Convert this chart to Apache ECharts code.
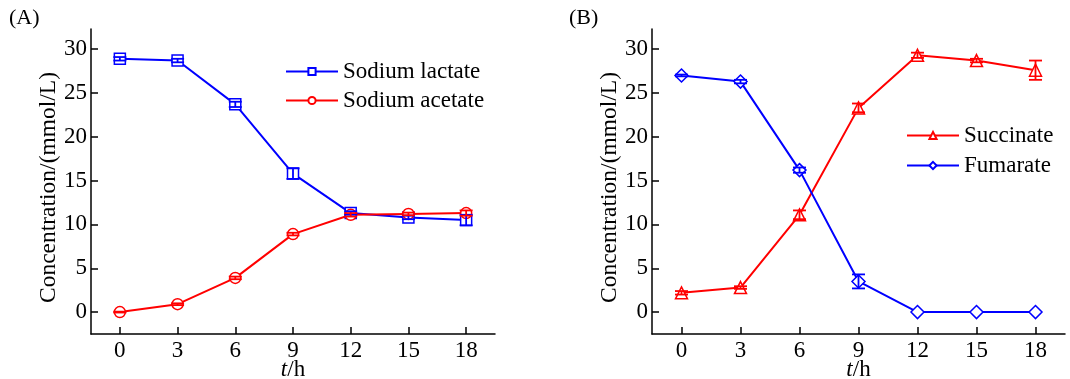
<!DOCTYPE html>
<html><head><meta charset="utf-8">
<script src="https://cdn.jsdelivr.net/npm/echarts@6/dist/echarts.min.js"></script>
<style>html,body{margin:0;padding:0;background:#fff}#c{width:1070px;height:379px}</style>
</head><body><div id="c"></div>
<script>
const timeH = [0, 3, 6, 9, 12, 15, 18];
const xTicks = [0, 3, 6, 9, 12, 15, 18];
const yTicks = [0, 5, 10, 15, 20, 25, 30];
const lactate = [28.9, 28.7, 23.7, 15.8, 11.3, 10.8, 10.5];
const lactateErr = [0.2, 0.2, 0.3, 0.6, 0.2, 0.2, 0.6];
const acetate = [0.0, 0.9, 3.9, 8.9, 11.1, 11.2, 11.3];
const acetateErr = [0.05, 0.1, 0.15, 0.15, 0.2, 0.15, 0.3];
const succinate = [2.2, 2.8, 11.1, 23.3, 29.3, 28.7, 27.6];
const succinateErr = [0.2, 0.15, 0.5, 0.5, 0.3, 0.2, 1.1];
const fumarate = [27.0, 26.3, 16.2, 3.5, 0, 0, 0];
const fumarateErr = [0.1, 0.2, 0.3, 0.8, 0, 0, 0];

const BLUE = '#0000ff', RED = '#ff0000';
const FONT = "'Liberation Serif','Times New Roman',serif";

function xAxis(gi) {
  return {
    type: 'value', gridIndex: gi, min: -1.5, max: 19.5,
    axisLine: {show: true, onZero: false, lineStyle: {color: '#000', width: 1.5}},
    axisTick: {show: true, inside: true, length: 7, lineStyle: {color: '#000', width: 1.5}, customValues: xTicks},
    axisLabel: {color: '#000', fontSize: 23, fontFamily: FONT, margin: 5, customValues: xTicks},
    splitLine: {show: false},
    name: '{i|t}/h', nameLocation: 'middle', nameGap: 24, nameMoveOverlap: false,
    nameTextStyle: {color: '#000', fontSize: 23, fontFamily: FONT,
      rich: {i: {fontStyle: 'italic', fontSize: 23, fontFamily: FONT, color: '#000'}}}
  };
}
function yAxis(gi) {
  return {
    type: 'value', gridIndex: gi, min: -2.5, max: 32.3,
    axisLine: {show: true, onZero: false, lineStyle: {color: '#000', width: 1.5}},
    axisTick: {show: true, inside: true, length: 7, lineStyle: {color: '#000', width: 1.5}, customValues: yTicks},
    axisLabel: {color: '#000', fontSize: 23, fontFamily: FONT, margin: 4, customValues: yTicks},
    splitLine: {show: false},
    name: 'Concentration/(mmol/L)', nameLocation: 'middle', nameGap: 30, nameMoveOverlap: false,
    nameTextStyle: {color: '#000', fontSize: 23.5, fontFamily: FONT, padding: [0, 12, 0, 0]}
  };
}
function lineSeries(name, vals, color, symbol, gi) {
  return {
    name, type: 'line', xAxisIndex: gi, yAxisIndex: gi,
    data: timeH.map((t, i) => [t, vals[i]]),
    symbol, symbolSize: symbol === 'triangle' ? 12 : (symbol === 'diamond' ? 13 : 11),
    showSymbol: true,
    lineStyle: {color, width: 2},
    itemStyle: {color: '#fff', borderColor: color, borderWidth: 1.5},
    z: 3
  };
}
function errSeries(vals, errs, color, gi) {
  return {
    type: 'custom', xAxisIndex: gi, yAxisIndex: gi, silent: true, z: 4,
    data: timeH.map((t, i) => [t, vals[i], errs[i]]),
    renderItem(params, api) {
      const x = api.value(0), y = api.value(1), e = api.value(2);
      if (!e) return null;
      const top = api.coord([x, y + e]), bot = api.coord([x, y - e]);
      const hw = 6.5;
      const st = {stroke: color, lineWidth: 1.8};
      return {type: 'group', children: [
        {type: 'line', shape: {x1: top[0], y1: top[1], x2: bot[0], y2: bot[1]}, style: st},
        {type: 'line', shape: {x1: top[0] - hw, y1: top[1], x2: top[0] + hw, y2: top[1]}, style: st},
        {type: 'line', shape: {x1: bot[0] - hw, y1: bot[1], x2: bot[0] + hw, y2: bot[1]}, style: st}
      ]};
    }
  };
}

const chart = echarts.init(document.getElementById('c'), null, {renderer: 'canvas'});
const legendText = {color: '#000', fontSize: 23, fontFamily: FONT};
chart.setOption({
  animation: false,
  backgroundColor: '#fff',
  grid: [
    {left: 91, top: 29, width: 404, height: 305, containLabel: false, outerBoundsMode: 'none'},
    {left: 652, top: 29, width: 413, height: 305, containLabel: false, outerBoundsMode: 'none'}
  ],
  xAxis: [xAxis(0), xAxis(1)],
  yAxis: [yAxis(0), yAxis(1)],
  legend: [
    {data: ['Sodium lactate', 'Sodium acetate'], orient: 'vertical', left: 280, top: 55,
     itemWidth: 52, itemHeight: 9, itemGap: 6, textStyle: legendText},
    {data: ['Succinate', 'Fumarate'], orient: 'vertical', left: 901, top: 119,
     itemWidth: 52, itemHeight: 9, itemGap: 7, textStyle: legendText}
  ],
  graphic: [
    {type: 'text', left: 9, top: 7, style: {text: '(A)', fontSize: 22, fontFamily: FONT, fill: '#000'}},
    {type: 'text', left: 569, top: 7, style: {text: '(B)', fontSize: 22, fontFamily: FONT, fill: '#000'}}
  ],
  series: [
    lineSeries('Sodium lactate', lactate, BLUE, 'rect', 0),
    lineSeries('Sodium acetate', acetate, RED, 'circle', 0),
    errSeries(lactate, lactateErr, BLUE, 0),
    errSeries(acetate, acetateErr, RED, 0),
    lineSeries('Succinate', succinate, RED, 'triangle', 1),
    lineSeries('Fumarate', fumarate, BLUE, 'diamond', 1),
    errSeries(succinate, succinateErr, RED, 1),
    errSeries(fumarate, fumarateErr, BLUE, 1)
  ]
});
</script></body></html>
